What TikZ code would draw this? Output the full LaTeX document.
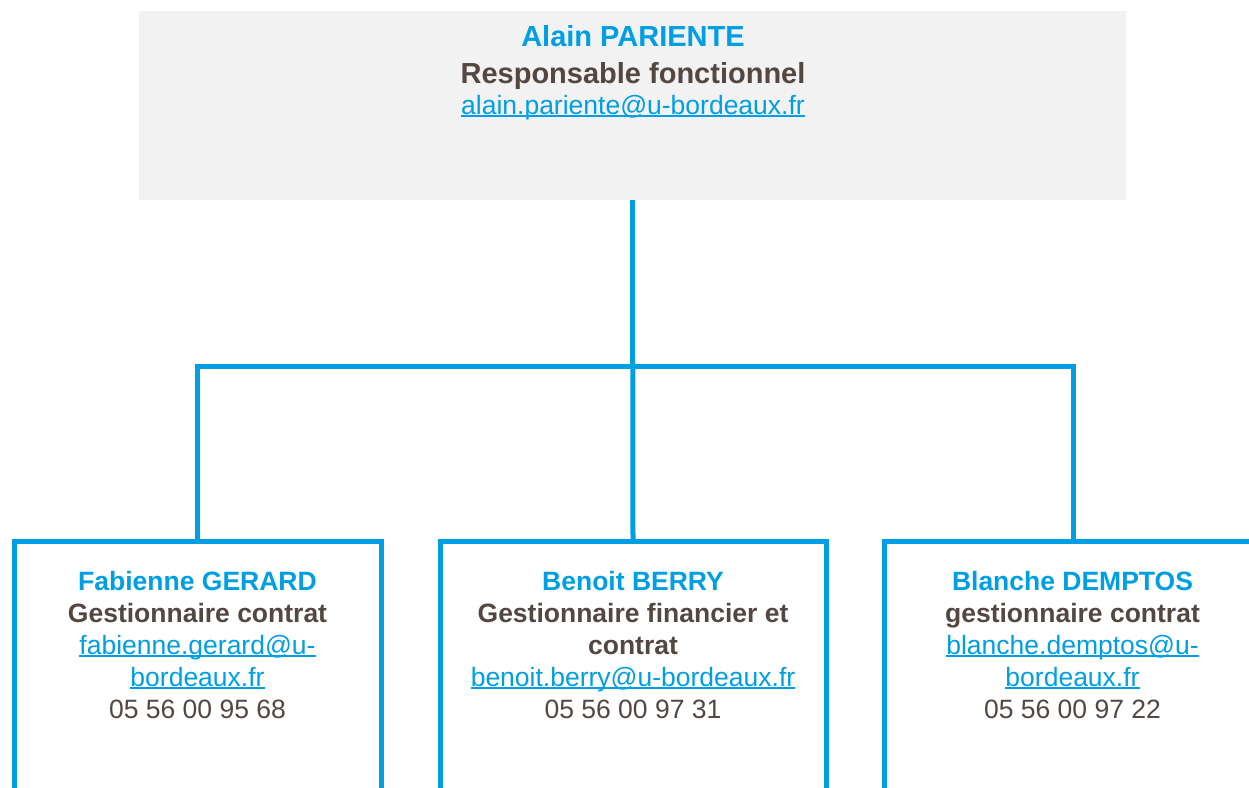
\documentclass[tikz,border=0pt]{standalone}
\usepackage{fontspec}
\setmainfont{Liberation Sans}
\definecolor{ubblue}{HTML}{009FE3}
\definecolor{ubbrown}{HTML}{524741}
\definecolor{ubgray}{HTML}{F2F2F2}
\newcommand\maillink[1]{{\color{ubblue}\setbox0\hbox{#1}\rlap{\rule[-0.11em]{\wd0}{0.065em}}\box0}}
\tikzset{
  conn/.style={draw=ubblue, line width=5pt},
  headbox/.style={fill=ubgray, minimum width=987pt, minimum height=189pt, inner sep=0pt, outer sep=0pt},
  staffbox/.style={draw=ubblue, line width=5pt, minimum height=270pt, inner sep=0pt, outer sep=0pt, anchor=north},
  headtext/.style={align=center, anchor=base, text=ubbrown, font=\fontsize{29}{31}\selectfont, inner sep=0pt},
  stafftext/.style={align=center, anchor=base, text=ubbrown, font=\fontsize{26.5}{32}\selectfont, inner sep=0pt},
}
\newcommand\pername[1]{{\bfseries\color{ubblue}#1}}
\begin{document}
\begin{tikzpicture}[x=1pt,y=-1pt]
\clip (0,0) rectangle (1249,787);
\node[headbox] (head) at (632.5,105.5) {};
\node[headtext] (htext) at (633,114) {\pername{Alain PARIENTE}\\[6pt]{\bfseries Responsable fonctionnel}\\{\fontsize{26.5}{31}\selectfont\maillink{alain.pariente@u-bordeaux.fr}}};
\node[staffbox, minimum width=367pt] (left) at (197.5,541) {};
\node[staffbox, minimum width=386pt] (mid) at (633,541) {};
\node[staffbox, minimum width=378pt] (right) at (1073,541) {};
\coordinate (junction) at (633,366);
\draw[conn] (head.south) -- (mid.north);
\draw[conn] (junction) -| (left.north);
\draw[conn] (junction) -| (right.north);
\node[stafftext] (ltext) at (197.5,718) {\pername{Fabienne GERARD}\\{\bfseries Gestionnaire contrat}\\\maillink{fabienne.gerard@u-}\\\maillink{bordeaux.fr}\\05 56 00 95 68};
\node[stafftext] (mtext) at (633,718) {\pername{Benoit BERRY}\\{\bfseries Gestionnaire financier et}\\{\bfseries contrat}\\\maillink{benoit.berry@u-bordeaux.fr}\\05 56 00 97 31};
\node[stafftext] (rtext) at (1072.5,718) {\pername{Blanche DEMPTOS}\\{\bfseries gestionnaire contrat}\\\maillink{blanche.demptos@u-}\\\maillink{bordeaux.fr}\\05 56 00 97 22};
\end{tikzpicture}
\end{document}
